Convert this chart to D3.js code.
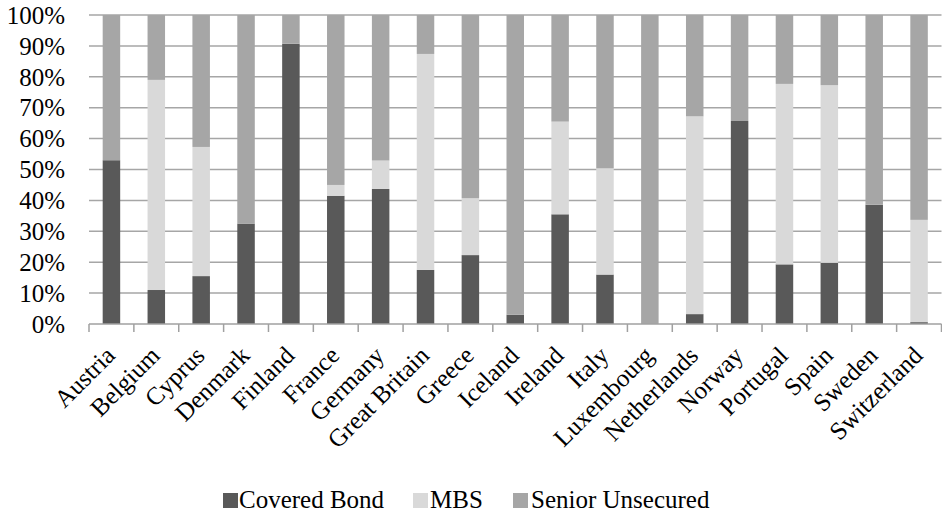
<!DOCTYPE html>
<html><head><meta charset="utf-8">
<script src="https://cdn.jsdelivr.net/npm/d3@7"></script>
<style>body{margin:0;background:#fff}svg{display:block}text{font-family:"Liberation Serif","Times New Roman",serif;fill:#000}</style>
</head><body><div id="chart"></div>
<script>
const categories = ["Austria","Belgium","Cyprus","Denmark","Finland","France","Germany","Great Britain","Greece","Iceland","Ireland","Italy","Luxembourg","Netherlands","Norway","Portugal","Spain","Sweden","Switzerland"];
const coveredBond = [53, 11, 15.5, 32.5, 90.7, 41.5, 43.7, 17.5, 22.3, 3, 35.5, 16, 0, 3.2, 65.7, 19.3, 19.8, 38.6, 0.6];
const mbs = [0, 68, 41.8, 0, 0, 3.5, 9.2, 69.9, 18.4, 0, 30, 34.4, 0, 64, 0, 58.4, 57.5, 0, 33.1];
const seriesNames = ["Covered Bond","MBS","Senior Unsecured"];
const seriesColors = ["#595959","#d9d9d9","#a6a6a6"];
const yTicks = [0,10,20,30,40,50,60,70,80,90,100];

const W = 942, H = 514;
const m = {left: 89, right: 0.5, top: 15, bottom: 190};
const svg = d3.select("#chart").append("svg").attr("width", W).attr("height", H);

const rows = categories.map((c,i) => ({cat: c, cb: coveredBond[i], mbs: mbs[i], su: 100 - coveredBond[i] - mbs[i]}));
const stack = d3.stack().keys(["cb","mbs","su"])(rows);

const x = d3.scaleBand().domain(categories).range([m.left, W - m.right]).paddingInner(0.61).paddingOuter(0.305);
const y = d3.scaleLinear().domain([0,100]).range([H - m.bottom, m.top]);

// gridlines
svg.append("g").selectAll("line").data(yTicks.filter(d=>d>0)).join("line")
  .attr("x1", m.left).attr("x2", W - m.right)
  .attr("y1", d=>y(d)).attr("y2", d=>y(d))
  .attr("stroke", "#a6a6a6").attr("stroke-width", 1.5);

// bars
svg.append("g").selectAll("g").data(stack).join("g")
  .attr("fill", (d,i)=>seriesColors[i])
  .selectAll("rect").data(d=>d).join("rect")
  .attr("x", d=>x(d.data.cat)).attr("width", x.bandwidth())
  .attr("y", d=>y(d[1])).attr("height", d=>Math.max(0, y(d[0]) - y(d[1])));

// x axis
const step = x.step();
const boundaries = d3.range(categories.length + 1).map(i => m.left + i*step);
const xa = svg.append("g");
xa.append("line").attr("x1", m.left).attr("x2", W - m.right).attr("y1", y(0)).attr("y2", y(0))
  .attr("stroke", "#a0a0a0").attr("stroke-width", 1.5);
xa.selectAll("line.tick").data(boundaries).join("line").attr("class","tick")
  .attr("x1", d=>d).attr("x2", d=>d).attr("y1", y(0)).attr("y2", y(0)+8)
  .attr("stroke", "#a0a0a0").attr("stroke-width", 1.5);
xa.selectAll("text").data(categories).join("text")
  .attr("text-anchor", "end")
  .attr("font-size", 25)
  .attr("transform", d => `translate(${x(d) + x.bandwidth()/2 + 5},${y(0)+33}) rotate(-45)`)
  .text(d=>d);

// y axis labels
svg.append("g").selectAll("text").data(yTicks).join("text")
  .attr("x", 65).attr("y", d=>y(d)).attr("dy", "0.35em")
  .attr("text-anchor", "end").attr("font-size", 25)
  .text(d=>d + "%");

// legend
const legX = [[223,239],[413,430],[513,531]];
const lg = svg.append("g");
seriesNames.forEach((n,i)=>{
  lg.append("rect").attr("x", legX[i][0]).attr("y", 493).attr("width", 15).attr("height", 15).attr("fill", seriesColors[i]);
  lg.append("text").attr("x", legX[i][1]).attr("y", 508).attr("font-size", 25).text(n);
});
</script></body></html>
